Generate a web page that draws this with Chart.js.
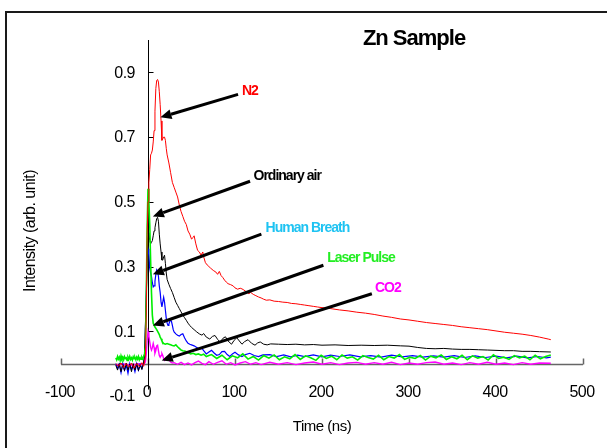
<!DOCTYPE html>
<html>
<head>
<meta charset="utf-8">
<script src="https://cdn.jsdelivr.net/npm/chart.js@4.4.1/dist/chart.umd.min.js"></script>
<style>
  html, body { margin: 0; padding: 0; background: #fff; overflow: hidden; }
  #marco { position: absolute; left: 5px; top: 11px; width: 700px; height: 600px; border: 2px solid #1a1a1a; pointer-events: none; }
  #grafico { position: absolute; left: 0; top: 0; }
</style>
</head>
<body>
<canvas id="grafico" width="607" height="448"></canvas>
<div id="marco"></div>
<script>
// Axis ticks
const xTicks = [-100, 0, 100, 200, 300, 400, 500];
const yTicks = [-0.1, 0.1, 0.3, 0.5, 0.7, 0.9];

// N2
const n2Time = [-37, -34, -31, -28, -25, -22, -19, -16, -13, -10, -7, -5, -3, -2, -1, 0, 1, 2, 3, 4, 5, 6, 7, 8, 9, 10, 11, 12, 13, 14, 15, 16, 17, 18, 19, 20, 21, 22, 24, 26, 28, 30, 32, 34, 36, 38, 40, 42, 44, 46, 48, 50, 52, 53, 55, 57, 59, 61, 63, 64, 66, 68, 70, 72, 75, 78, 80, 82, 84, 86, 88, 90, 92, 95, 98, 100, 103, 106, 108, 110, 113, 116, 118, 121, 124, 127, 130, 133, 136, 140, 145, 150, 155, 160, 165, 170, 175, 180, 185, 190, 195, 200, 210, 220, 230, 240, 250, 260, 270, 280, 290, 300, 310, 320, 330, 340, 350, 360, 370, 380, 390, 400, 410, 420, 430, 440, 450, 455, 460, 463];
const n2Intensity = [0.000, -0.008, 0.002, -0.012, 0.000, -0.010, 0.002, -0.014, 0.000, -0.010, 0.003, -0.008, 0.020, 0.150, 0.400, 0.500, 0.560, 0.600, 0.645, 0.650, 0.660, 0.685, 0.720, 0.780, 0.850, 0.875, 0.878, 0.870, 0.840, 0.800, 0.750, 0.690, 0.695, 0.700, 0.700, 0.690, 0.665, 0.645, 0.620, 0.590, 0.560, 0.545, 0.530, 0.515, 0.490, 0.470, 0.455, 0.440, 0.430, 0.410, 0.400, 0.385, 0.390, 0.395, 0.370, 0.350, 0.345, 0.335, 0.345, 0.330, 0.312, 0.305, 0.300, 0.295, 0.288, 0.283, 0.276, 0.285, 0.272, 0.266, 0.258, 0.252, 0.247, 0.244, 0.240, 0.234, 0.230, 0.233, 0.231, 0.228, 0.222, 0.216, 0.220, 0.214, 0.210, 0.206, 0.203, 0.199, 0.196, 0.197, 0.193, 0.192, 0.190, 0.189, 0.186, 0.185, 0.183, 0.181, 0.179, 0.177, 0.175, 0.173, 0.170, 0.166, 0.163, 0.159, 0.156, 0.152, 0.147, 0.143, 0.138, 0.135, 0.131, 0.127, 0.124, 0.121, 0.118, 0.114, 0.111, 0.108, 0.105, 0.101, 0.097, 0.094, 0.091, 0.087, 0.082, 0.079, 0.076, 0.074];

// Ordinary air
const aireTime = [-37, -35, -33, -31, -29, -27, -25, -23, -21, -19, -17, -15, -13, -11, -9, -7, -5, -4, -3, -2, -1, 0, 1, 2, 3, 4, 5, 6, 7, 8, 9, 10, 11, 12, 13, 14, 15, 16, 17, 18, 19, 20, 21, 22, 24, 26, 28, 30, 32, 34, 36, 38, 40, 42, 44, 46, 48, 50, 53, 56, 59, 62, 64, 67, 71, 74, 77, 80, 83, 86, 89, 92, 96, 99, 102, 105, 108, 111, 115, 119, 123, 126, 129, 133, 137, 141, 150, 160, 170, 180, 190, 200, 215, 230, 245, 260, 275, 290, 300, 310, 320, 330, 340, 350, 360, 370, 380, 390, 400, 410, 420, 430, 440, 450, 463];
const aireIntensity = [-0.005, -0.020, 0.000, -0.025, -0.003, -0.022, 0.002, -0.020, -0.002, -0.025, 0.000, -0.020, 0.002, -0.022, -0.004, -0.018, 0.005, 0.030, 0.120, 0.200, 0.310, 0.390, 0.405, 0.380, 0.370, 0.375, 0.380, 0.395, 0.410, 0.420, 0.435, 0.448, 0.452, 0.440, 0.400, 0.370, 0.345, 0.320, 0.320, 0.330, 0.335, 0.310, 0.280, 0.260, 0.245, 0.232, 0.220, 0.205, 0.190, 0.180, 0.170, 0.160, 0.150, 0.142, 0.134, 0.125, 0.118, 0.112, 0.105, 0.098, 0.092, 0.088, 0.093, 0.082, 0.076, 0.084, 0.087, 0.075, 0.066, 0.078, 0.083, 0.070, 0.060, 0.072, 0.080, 0.070, 0.060, 0.068, 0.074, 0.063, 0.057, 0.064, 0.067, 0.060, 0.058, 0.061, 0.060, 0.059, 0.060, 0.058, 0.059, 0.057, 0.058, 0.056, 0.057, 0.056, 0.057, 0.055, 0.054, 0.050, 0.047, 0.046, 0.047, 0.045, 0.044, 0.044, 0.043, 0.042, 0.041, 0.040, 0.040, 0.038, 0.038, 0.037, 0.036];

// Human Breath
const alientoTime = [-37, -35, -33, -31, -29, -27, -25, -23, -21, -19, -17, -15, -13, -11, -9, -7, -5, -4, -3, -2, -1, 0, 1, 2, 3, 4, 5, 6, 7, 8, 9, 10, 11, 12, 13, 14, 15, 16, 17, 18, 19, 20, 21, 22, 23, 24, 25, 26, 27, 28, 29, 30, 32, 34, 36, 38, 40, 42, 44, 46, 48, 50, 53, 56, 59, 62, 64, 67, 70, 73, 76, 79, 82, 85, 88, 91, 94, 97, 100, 104, 108, 112, 117, 122, 127, 132, 140, 148, 156, 164, 172, 180, 190, 200, 210, 220, 232, 244, 256, 268, 280, 292, 304, 316, 328, 340, 352, 364, 376, 388, 400, 412, 424, 436, 448, 458, 463];
const alientoIntensity = [0.000, -0.015, -0.002, -0.028, 0.000, -0.020, -0.004, -0.030, 0.000, -0.018, -0.005, -0.025, 0.000, -0.020, -0.002, -0.015, 0.000, 0.020, 0.100, 0.220, 0.320, 0.355, 0.340, 0.295, 0.280, 0.270, 0.250, 0.237, 0.240, 0.255, 0.275, 0.290, 0.285, 0.270, 0.240, 0.220, 0.190, 0.175, 0.190, 0.205, 0.190, 0.165, 0.140, 0.125, 0.118, 0.122, 0.130, 0.135, 0.130, 0.118, 0.105, 0.098, 0.092, 0.088, 0.085, 0.090, 0.092, 0.080, 0.070, 0.063, 0.060, 0.058, 0.055, 0.050, 0.045, 0.047, 0.040, 0.030, 0.036, 0.041, 0.033, 0.026, 0.028, 0.037, 0.038, 0.028, 0.022, 0.030, 0.035, 0.027, 0.022, 0.028, 0.032, 0.025, 0.022, 0.027, 0.028, 0.022, 0.027, 0.021, 0.026, 0.022, 0.027, 0.021, 0.026, 0.022, 0.027, 0.021, 0.025, 0.020, 0.026, 0.021, 0.025, 0.020, 0.024, 0.020, 0.025, 0.019, 0.024, 0.019, 0.023, 0.018, 0.023, 0.018, 0.022, 0.018, 0.020];

// Laser Pulse
const laserTime = [-37, -36, -35, -34, -33, -32, -31, -30, -29, -28, -27, -26, -25, -24, -23, -22, -21, -20, -19, -18, -17, -16, -15, -14, -13, -12, -11, -10, -9, -8, -7, -6, -5, -4, -3, -2, -1, 0, 1, 2, 3, 4, 5, 6, 8, 10, 12, 13, 14, 15, 16, 17, 18, 20, 22, 24, 26, 28, 30, 32, 34, 36, 38, 40, 43, 46, 49, 52, 55, 58, 61, 64, 67, 70,
  73, 79, 85, 91, 97, 103, 109, 115, 121, 127, 133, 139, 145, 151, 157, 163, 169, 175, 181, 187, 193, 199, 205, 211, 217, 223, 229, 235, 241, 247, 253, 259, 265, 271, 277, 283, 289, 295, 301, 307, 313, 319, 325, 331, 337, 343, 349, 355, 361, 367, 373, 379, 385, 391, 397, 403, 409, 415, 421, 427, 433, 439, 445, 451, 457, 463];
const laserIntensity = [0.018, 0.012, 0.022, 0.014, 0.020, 0.010, 0.024, 0.015, 0.020, 0.012, 0.022, 0.016, 0.018, 0.010, 0.020, 0.014, 0.022, 0.013, 0.018, 0.011, 0.021, 0.015, 0.019, 0.012, 0.020, 0.014, 0.022, 0.012, 0.018, 0.014, 0.020, 0.015, 0.022, 0.030, 0.050, 0.200, 0.420, 0.540, 0.500, 0.430, 0.320, 0.220, 0.150, 0.125, 0.113, 0.105, 0.095, 0.090, 0.082, 0.077, 0.070, 0.065, 0.062, 0.060, 0.062, 0.060, 0.058, 0.056, 0.055, 0.058, 0.052, 0.047, 0.042, 0.040, 0.038, 0.034, 0.030, 0.032, 0.028, 0.030, 0.026, 0.029, 0.022, 0.025,
  0.028, 0.016, 0.026, 0.012, 0.024, 0.018, 0.030, 0.014, 0.022, 0.011, 0.025, 0.017, 0.027, 0.012, 0.021, 0.015, 0.028, 0.013, 0.024, 0.018, 0.010, 0.026, 0.016, 0.023, 0.012, 0.027, 0.017, 0.021, 0.011, 0.025, 0.019, 0.014, 0.026, 0.012, 0.022, 0.017, 0.028, 0.013, 0.020, 0.016, 0.025, 0.011, 0.023, 0.018, 0.027, 0.013, 0.021, 0.015, 0.026, 0.012, 0.024, 0.017, 0.022, 0.011, 0.027, 0.016, 0.020, 0.013, 0.025, 0.018, 0.023, 0.012, 0.026, 0.015, 0.022, 0.027];

// CO2
const co2Time = [-37, -30, -20, -10, -5, -3, -2, -1, 0, 1, 2, 3, 4, 5, 6, 7, 8, 9, 10, 11, 12, 13, 14, 15, 16, 17, 18, 19, 20, 21, 22, 24, 26, 28, 30, 34, 38, 42, 46, 50, 54, 58, 62, 66, 70, 75, 80, 85, 90, 95, 100, 106, 112, 118, 124, 130, 140, 150, 160, 170, 180, 190, 200, 210, 220, 230, 240, 250, 260, 270, 280, 290, 300, 310, 320, 330, 340, 350, 360, 370, 380, 390, 400, 410, 420, 430, 440, 450, 463];
const co2Intensity = [-0.005, 0.000, -0.005, 0.000, -0.003, 0.005, 0.030, 0.070, 0.098, 0.085, 0.067, 0.050, 0.042, 0.050, 0.062, 0.050, 0.032, 0.040, 0.055, 0.057, 0.040, 0.025, 0.020, 0.025, 0.031, 0.025, 0.015, 0.010, 0.012, 0.018, 0.020, 0.012, 0.005, 0.002, 0.003, -0.002, 0.004, -0.003, 0.002, -0.004, 0.003, 0.008, 0.001, -0.003, 0.006, -0.002, 0.004, 0.009, -0.002, 0.003, -0.004, 0.002, 0.006, -0.002, 0.003, -0.003, 0.004, -0.002, 0.003, -0.003, 0.002, 0.005, -0.002, 0.003, -0.003, 0.002, 0.004, -0.002, 0.003, -0.002, 0.004, -0.003, 0.002, -0.002, 0.003, 0.005, -0.002, 0.002, -0.003, 0.003, -0.002, 0.004, -0.002, 0.002, -0.003, 0.003, -0.002, 0.002, 0.001];

// Arrow notes: label text, label anchor and arrow tail/tip, all in data units
const notaTextos = ["N2", "Ordinary air", "Human Breath", "Laser Pulse", "CO2"];
const notaColores = ["#ff0000", "#000000", "#1ec3f2", "#22ee22", "#ff00ff"];
const notaTexto = [[108, 0.842], [121.3, 0.580], [135.2, 0.419], [205.9, 0.326], [260.9, 0.232]];
const notaCola = [[103.5, 0.832], [117.3, 0.5635], [130.3, 0.400], [201.6, 0.304], [257.3, 0.216]];
const notaPunta = [[14.3, 0.761], [5.6, 0.455], [5.6, 0.276], [5.6, 0.118], [15.8, 0.010]];

const FUENTE = '"Liberation Sans", Arial, sans-serif';

function puntos(tiempos, valores) {
  return tiempos.map((t, i) => ({ x: t, y: valores[i] }));
}

function serie(nombre, tiempos, valores, color, ancho) {
  return {
    label: nombre,
    data: puntos(tiempos, valores),
    borderColor: color,
    borderWidth: ancho,
    pointRadius: 0,
    tension: 0,
    fill: false
  };
}

function flecha(ctx, x1, y1, x2, y2) {
  const ang = Math.atan2(y2 - y1, x2 - x1);
  const largo = 11, medio = 5;
  const bx = x2 - largo * Math.cos(ang);
  const by = y2 - largo * Math.sin(ang);
  ctx.beginPath();
  ctx.moveTo(x1, y1);
  ctx.lineTo(bx, by);
  ctx.lineWidth = 3;
  ctx.strokeStyle = "#000";
  ctx.stroke();
  ctx.beginPath();
  ctx.moveTo(x2, y2);
  ctx.lineTo(bx + medio * Math.sin(ang), by - medio * Math.cos(ang));
  ctx.lineTo(bx - medio * Math.sin(ang), by + medio * Math.cos(ang));
  ctx.closePath();
  ctx.fillStyle = "#000";
  ctx.fill();
}

// Axes crossing at the origin, tick labels, titles and arrow notes
const ejesPlugin = {
  id: "ejes",
  beforeDatasetsDraw(chart) {
    const { ctx, scales: { x, y } } = chart;
    const y0 = Math.round(y.getPixelForValue(0)) + 0.5;
    const x0 = Math.round(x.getPixelForValue(0)) + 0.5;
    ctx.save();
    ctx.strokeStyle = "#666";
    ctx.lineWidth = 1.5;
    ctx.beginPath();
    ctx.moveTo(x.getPixelForValue(-100), y0);
    ctx.lineTo(x.getPixelForValue(500), y0);
    xTicks.forEach(v => {
      const px = Math.round(x.getPixelForValue(v)) + 0.5;
      ctx.moveTo(px, y0);
      ctx.lineTo(px, y0 - 6);
    });
    ctx.stroke();

    ctx.strokeStyle = "#000";
    ctx.lineWidth = 1;
    ctx.beginPath();
    ctx.moveTo(x0, y.getPixelForValue(1.0));
    ctx.lineTo(x0, y.getPixelForValue(-0.08));
    yTicks.forEach(v => {
      if (v < 0) return;
      const py = Math.round(y.getPixelForValue(v)) + 0.5;
      ctx.moveTo(x0, py);
      ctx.lineTo(x0 + 5, py);
    });
    ctx.stroke();
    ctx.restore();
  },
  afterDatasetsDraw(chart) {
    const { ctx, scales: { x, y } } = chart;
    const x0 = x.getPixelForValue(0);
    ctx.save();
    ctx.fillStyle = "#000";
    ctx.font = "16px " + FUENTE;
    ctx.letterSpacing = "-0.5px";

    // y tick labels
    ctx.textAlign = "right";
    ctx.textBaseline = "middle";
    yTicks.forEach(v => {
      ctx.fillText(v.toFixed(1), x0 - 13, y.getPixelForValue(v) + 1);
    });

    // x tick labels
    ctx.textAlign = "center";
    xTicks.forEach(v => {
      ctx.fillText(String(v), x.getPixelForValue(v) - 1, 393);
    });

    // axis titles
    ctx.font = "15px " + FUENTE;
    ctx.fillText("Time (ns)", 322, 427);
    ctx.save();
    ctx.translate(31, 231);
    ctx.rotate(-Math.PI / 2);
    ctx.font = "16px " + FUENTE;
    ctx.fillText("Intensity (arb. unit)", 0, 0);
    ctx.restore();

    // chart title
    ctx.font = "bold 22px " + FUENTE;
    ctx.letterSpacing = "-1px";
    ctx.textBaseline = "alphabetic";
    ctx.fillText("Zn Sample", 414, 45);

    // arrows and their labels
    notaTextos.forEach((texto, i) => {
      flecha(ctx,
        x.getPixelForValue(notaCola[i][0]), y.getPixelForValue(notaCola[i][1]),
        x.getPixelForValue(notaPunta[i][0]), y.getPixelForValue(notaPunta[i][1]));
      ctx.font = "bold 14px " + FUENTE;
      ctx.letterSpacing = "-1px";
      ctx.textAlign = "left";
      ctx.textBaseline = "middle";
      ctx.fillStyle = notaColores[i];
      ctx.fillText(texto, x.getPixelForValue(notaTexto[i][0]), y.getPixelForValue(notaTexto[i][1]));
    });
    ctx.restore();
  }
};

const ctx = document.getElementById("grafico").getContext("2d");
new Chart(ctx, {
  type: "line",
  data: {
    datasets: [
      serie("N2", n2Time, n2Intensity, "#ff0000", 1),
      serie("Laser Pulse", laserTime, laserIntensity, "#00ee00", 1.6),
      serie("Ordinary air", aireTime, aireIntensity, "#000000", 1),
      serie("Human Breath", alientoTime, alientoIntensity, "#0000ff", 1.2),
      serie("CO2", co2Time, co2Intensity, "#ff00ff", 1.4)
    ]
  },
  options: {
    responsive: false,
    animation: false,
    devicePixelRatio: 1,
    layout: { padding: { left: 61, right: 24, top: 40, bottom: 52 } },
    scales: {
      x: { type: "linear", min: -100, max: 500, display: false },
      y: { type: "linear", min: -0.1, max: 1.0, display: false }
    },
    plugins: {
      legend: { display: false },
      tooltip: { enabled: false }
    }
  },
  plugins: [ejesPlugin]
});
</script>
</body>
</html>
